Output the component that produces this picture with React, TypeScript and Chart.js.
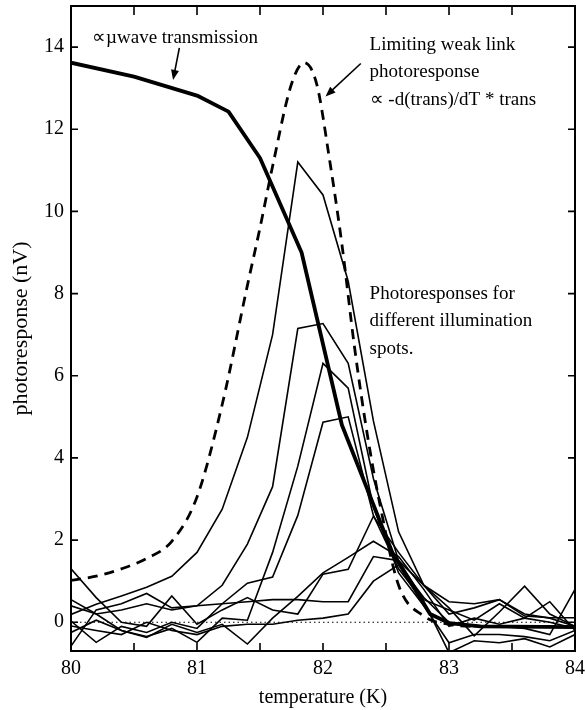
import React, { useEffect, useRef } from 'react';
import { Chart, registerables } from 'chart.js';

Chart.register(...registerables);

const FONT = '"Liberation Serif", "Times New Roman", serif';

// temperature grid of the measured photoresponse curves (K)
const temps = [80, 80.2, 80.4, 80.6, 80.8, 81, 81.2, 81.4, 81.6, 81.8, 82, 82.2, 82.4, 82.6, 82.8, 83, 83.2, 83.4, 83.6, 83.8, 84];

// photoresponses for different illumination spots (nV)
const spotA = [0.19, 0.44, 0.64, 0.85, 1.12, 1.7, 2.75, 4.5, 7.0, 11.2, 10.4, 8.3, 4.9, 2.2, 0.9, 0.2, 0.35, 0.55, 0.2, 0.1, -0.1];
const spotB = [-0.58, 0.3, 0.45, 0.7, 0.35, 0.4, 0.9, 1.9, 3.3, 7.15, 7.27, 6.3, 3.5, 1.5, 0.55, 0.3, 0.05, 0.45, 0.1, 0.0, -0.15];
const spotC = [0.55, 0.2, -0.2, -0.35, -0.15, -0.49, 0.1, 0.05, 1.7, 3.8, 6.3, 5.7, 2.8, 1.2, 0.4, -0.5, -0.3, -0.3, -0.35, -0.45, -0.2];
const spotD = [0.03, -0.49, -0.1, -0.25, 0.0, -0.15, 0.45, 0.95, 1.1, 2.6, 4.87, 5.0, 2.6, 1.3, 0.5, -0.74, -0.45, -0.5, -0.4, -0.6, -0.3];
const spotE = [1.3, 0.6, 0.0, -0.1, 0.64, -0.05, 0.3, 0.6, 0.3, 0.2, 1.17, 1.29, 2.58, 1.7, 0.9, 0.35, -0.33, 0.25, 0.88, 0.2, -0.1];
const spotF = [-0.25, 0.05, -0.2, -0.37, -0.05, -0.25, -0.05, -0.53, 0.1, 0.63, 1.2, 1.58, 1.97, 1.6, 0.8, -0.1, 0.1, -0.05, 0.1, 0.5, -0.2];
const spotG = [0.4, 0.2, 0.3, 0.45, 0.3, 0.4, 0.45, 0.5, 0.55, 0.55, 0.5, 0.5, 1.6, 1.5, 0.9, 0.5, 0.45, 0.55, 0.15, 0.11, 0.11];
const spotH = [-0.09, -0.2, -0.3, 0.0, -0.2, -0.3, -0.1, -0.05, -0.05, 0.05, 0.1, 0.2, 1.0, 1.4, 0.6, 0.0, -0.1, -0.1, -0.15, -0.3, 0.8];
const spots = [spotA, spotB, spotC, spotD, spotE, spotF, spotG, spotH];

// microwave transmission (thick line)
const transT = [80, 80.5, 81, 81.25, 81.5, 81.83, 82.15, 82.55, 82.85, 83, 83.25, 84];
const transV = [13.62, 13.28, 12.82, 12.43, 11.3, 9.0, 4.8, 1.7, 0.2, -0.02, -0.1, -0.12];

// limiting weak link photoresponse (dashed line)
const limitT = [80, 80.2, 80.4, 80.6, 80.8, 81, 81.2, 81.4, 81.5, 81.6, 81.75, 81.85, 81.95, 82.05, 82.15, 82.25, 82.35, 82.45, 82.6, 82.8, 83, 83.2, 83.6, 84];
const limitV = [1.02, 1.12, 1.3, 1.55, 1.97, 3.05, 5.3, 8.2, 9.6, 11.1, 13.1, 13.62, 13.1, 11.3, 9.2, 6.7, 4.6, 2.9, 0.9, 0.15, -0.05, -0.1, -0.1, -0.1];

// zero reference (dotted)
const zeroT = [80, 84];
const zeroV = [0, 0];

// axes
const xRange = [80, 84];
const yRange = [-0.7, 15];
const xTickValues = [80, 81, 82, 83, 84];
const xTickMarks = [80.5, 81, 81.5, 82, 82.5, 83, 83.5];
const yTickValues = [0, 2, 4, 6, 8, 10, 12, 14];

// annotations (anchored in data coordinates)
const noteTrans = { text: ['\u221D\u00B5wave transmission'], at: [80.167, 14.1] };
const arrowTrans = { from: [80.86, 13.98], to: [80.81, 13.2] };
const noteLimit = { text: ['Limiting weak link', 'photoresponse', '\u221D -d(trans)/dT * trans'], at: [82.37, 13.93] };
const arrowLimit = { from: [82.3, 13.6], to: [82.02, 12.8] };
const noteSpots = { text: ['Photoresponses for', 'different illumination', 'spots.'], at: [82.37, 7.88] };

const pts = (xs: number[], ys: number[]) => xs.map((x, i) => ({ x, y: ys[i] }));

const overlay = {
  id: 'overlay',
  afterDatasetsDraw(chart: any) {
    const { ctx, chartArea: a, scales } = chart;
    const sx = scales.x, sy = scales.y;
    ctx.save();
    ctx.strokeStyle = '#000';
    ctx.fillStyle = '#000';
    ctx.lineWidth = 2;
    ctx.strokeRect(a.left, a.top, a.right - a.left, a.bottom - a.top);
    ctx.lineWidth = 1.6;
    ctx.beginPath();
    xTickMarks.forEach((v) => {
      const p = sx.getPixelForValue(v);
      ctx.moveTo(p, a.bottom); ctx.lineTo(p, a.bottom - 8);
      ctx.moveTo(p, a.top); ctx.lineTo(p, a.top + 9);
    });
    yTickValues.forEach((v) => {
      const p = sy.getPixelForValue(v);
      ctx.moveTo(a.left, p); ctx.lineTo(a.left + 7, p);
      ctx.moveTo(a.right, p); ctx.lineTo(a.right - 7, p);
    });
    ctx.stroke();

    ctx.font = `19px ${FONT}`;
    ctx.textBaseline = 'alphabetic';
    ctx.textAlign = 'left';
    const drawNote = (n: any, gap: number) => {
      const x0 = sx.getPixelForValue(n.at[0]);
      const y0 = sy.getPixelForValue(n.at[1]);
      n.text.forEach((t: string, i: number) => ctx.fillText(t, x0, y0 + i * gap));
    };
    drawNote(noteTrans, 27);
    drawNote(noteLimit, 27.5);
    drawNote(noteSpots, 27.5);

    const drawArrow = (ar: any) => {
      const x1 = sx.getPixelForValue(ar.from[0]);
      const y1 = sy.getPixelForValue(ar.from[1]);
      const x2 = sx.getPixelForValue(ar.to[0]);
      const y2 = sy.getPixelForValue(ar.to[1]);
      const ang = Math.atan2(y2 - y1, x2 - x1);
      const hl = 10, hw = 4;
      ctx.lineWidth = 1.6;
      ctx.beginPath();
      ctx.moveTo(x1, y1);
      ctx.lineTo(x2 - Math.cos(ang) * hl * 0.8, y2 - Math.sin(ang) * hl * 0.8);
      ctx.stroke();
      ctx.beginPath();
      ctx.moveTo(x2, y2);
      ctx.lineTo(x2 - Math.cos(ang) * hl - Math.sin(ang) * hw, y2 - Math.sin(ang) * hl + Math.cos(ang) * hw);
      ctx.lineTo(x2 - Math.cos(ang) * hl + Math.sin(ang) * hw, y2 - Math.sin(ang) * hl - Math.cos(ang) * hw);
      ctx.closePath();
      ctx.fill();
    };
    drawArrow(arrowTrans);
    drawArrow(arrowLimit);
    ctx.restore();
  },
};

export default function App() {
  const ref = useRef<HTMLCanvasElement | null>(null);

  useEffect(() => {
    if (!ref.current) return;
    const datasets: any[] = [
      {
        data: pts(zeroT, zeroV),
        borderColor: '#000',
        borderWidth: 1.2,
        borderDash: [1.5, 3],
        pointRadius: 0,
      },
      ...spots.map((s) => ({
        data: pts(temps, s),
        borderColor: '#000',
        borderWidth: 1.6,
        pointRadius: 0,
        tension: 0,
      })),
      {
        data: pts(limitT, limitV),
        borderColor: '#000',
        borderWidth: 2.8,
        borderDash: [10, 7],
        pointRadius: 0,
        cubicInterpolationMode: 'monotone',
      },
      {
        data: pts(transT, transV),
        borderColor: '#000',
        borderWidth: 3.8,
        pointRadius: 0,
        tension: 0,
        borderJoinStyle: 'round',
      },
    ];

    const chart = new Chart(ref.current, {
      type: 'line',
      data: { datasets },
      plugins: [overlay],
      options: {
        animation: false,
        responsive: false,
        devicePixelRatio: 1,
        layout: { padding: { top: 6, right: 10, left: 0, bottom: 0 } },
        plugins: { legend: { display: false }, tooltip: { enabled: false } },
        scales: {
          x: {
            type: 'linear',
            min: xRange[0],
            max: xRange[1],
            afterBuildTicks: (s: any) => { s.ticks = xTickValues.map((v) => ({ value: v })); },
            afterFit: (s: any) => { s.height = 59; s.paddingLeft = 0; s.paddingRight = 0; },
            grid: { display: false, drawTicks: false },
            border: { display: false },
            ticks: {
              color: '#000',
              font: { family: FONT, size: 20 },
              padding: 6,
              maxRotation: 0,
              autoSkip: false,
              callback: (v: any) => String(v),
            },
            title: {
              display: true,
              text: 'temperature (K)',
              color: '#000',
              font: { family: FONT, size: 20 },
              padding: { top: 0, bottom: 0 },
            },
          },
          y: {
            type: 'linear',
            min: yRange[0],
            max: yRange[1],
            afterBuildTicks: (s: any) => { s.ticks = yTickValues.map((v) => ({ value: v })); },
            afterFit: (s: any) => { s.width = 71; s.paddingTop = 0; s.paddingBottom = 0; },
            grid: { display: false, drawTicks: false },
            border: { display: false },
            ticks: {
              color: '#000',
              font: { family: FONT, size: 20 },
              padding: 7,
              autoSkip: false,
              callback: (v: any) => String(v),
            },
            title: {
              display: true,
              text: 'photoresponse (nV)',
              color: '#000',
              font: { family: FONT, size: 22 },
              padding: { top: 8, bottom: 0 },
            },
          },
        },
      } as any,
    });
    return () => chart.destroy();
  }, []);

  return (
    <div style={{ position: 'fixed', left: 0, top: 0, width: 585, height: 710, background: '#fff' }}>
      <canvas ref={ref} width={585} height={710} style={{ display: 'block' }} />
    </div>
  );
}
